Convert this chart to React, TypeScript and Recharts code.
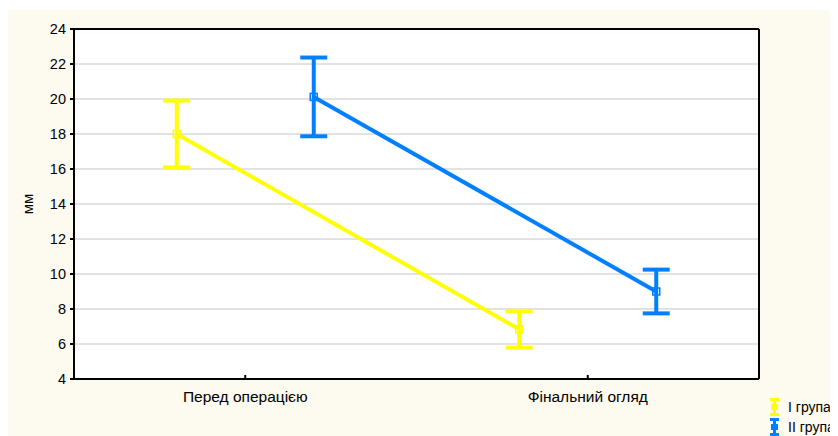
import { ScatterChart, Scatter, XAxis, YAxis, CartesianGrid, ErrorBar, ReferenceLine, Legend } from 'recharts'

// categories on the x axis
const categories = ['Перед операцією', 'Фінальний огляд']
const yTicks = [4, 6, 8, 10, 12, 14, 16, 18, 20, 22, 24]

// group means and error half-widths (мм)
const group1Name = 'I група'
const group1Means = [18.0, 6.84]
const group1Err = [1.91, 1.05]

const group2Name = 'II група'
const group2Means = [20.12, 9.0]
const group2Err = [2.25, 1.25]

const YELLOW = '#FFFF00'
const BLUE = '#0080FF'
const BG = '#FDFAF0'
const FONT = 'Arial, "Liberation Sans", sans-serif'

// each category sits at i + 0.5, groups are shifted left / right of it
const SHIFT = 0.2
const build = (means: number[], errs: number[], shift: number) =>
  means.map((m, i) => ({ x: i + 0.5 + shift, y: m, err: errs[i] }))

const data1 = build(group1Means, group1Err, -SHIFT)
const data2 = build(group2Means, group2Err, SHIFT)

const squareShape = (color: string) => (props: any) => {
  const { cx, cy } = props
  return <rect x={cx - 3.5} y={cy - 3.5} width={7} height={7} fill="none" stroke={color} strokeWidth={1.5} />
}

function LegendIcon({ color }: { color: string }) {
  return (
    <svg width={9} height={18} style={{ display: 'block', flexShrink: 0 }}>
      <rect x={0} y={0} width={9} height={3} fill={color} />
      <rect x={3} y={0} width={3} height={18} fill={color} />
      <rect x={1} y={6} width={7} height={6} fill={color} />
      <rect x={0} y={15} width={9} height={3} fill={color} />
    </svg>
  )
}

const renderLegend = (props: any) => {
  const { payload = [] } = props
  return (
    <div style={{ fontFamily: FONT, fontSize: 14, color: '#000' }}>
      {payload.map((p: any) => (
        <div key={p.value} style={{ display: 'flex', alignItems: 'center', height: 20, whiteSpace: 'nowrap' }}>
          <LegendIcon color={p.color} />
          <span style={{ marginLeft: 9 }}>{p.value}</span>
        </div>
      ))}
    </div>
  )
}

export default function App() {
  const yTickStyle = { fontSize: 14.5, fill: '#000', fontFamily: FONT }
  const xTickStyle = { fontSize: 15.5, fill: '#000', fontFamily: FONT }
  return (
    <div style={{ paddingTop: 2 }}>
      <div style={{ width: 830, height: 426, background: BG, overflow: 'hidden' }}>
        <ScatterChart width={830} height={426} margin={{ top: 19, right: 0, bottom: 27, left: 0 }}>
          <CartesianGrid vertical={false} stroke="#e2e2e2" strokeWidth={2} fill="#fff" />
          <XAxis
            type="number"
            dataKey="x"
            domain={[0, 2]}
            ticks={[0.5, 1.5]}
            tickFormatter={(v: number) => categories[Math.floor(v)]}
            height={30}
            axisLine={{ stroke: '#000', strokeWidth: 2 }}
            tickLine={{ stroke: '#000', strokeWidth: 2 }}
            tickSize={-4}
            tickMargin={16}
            tick={xTickStyle}
          />
          <YAxis
            type="number"
            dataKey="y"
            domain={[4, 24]}
            ticks={yTicks}
            interval={0}
            width={66}
            axisLine={{ stroke: '#000', strokeWidth: 2 }}
            tickLine={{ stroke: '#000', strokeWidth: 2 }}
            tickSize={4}
            tickMargin={4}
            tick={yTickStyle}
            label={{
              value: 'мм',
              angle: -90,
              position: 'insideLeft',
              offset: 20,
              style: { textAnchor: 'middle', fontSize: 15, fontFamily: FONT, fill: '#000' },
            }}
          />
          <YAxis
            yAxisId="r"
            orientation="right"
            type="number"
            domain={[4, 24]}
            ticks={yTicks}
            interval={0}
            width={79}
            axisLine={{ stroke: '#000', strokeWidth: 2 }}
            tickLine={{ stroke: '#000', strokeWidth: 2 }}
            tickSize={4}
            tickFormatter={() => ''}
          />
          <ReferenceLine y={24} stroke="#000" strokeWidth={2} />
          <Legend
            layout="vertical"
            align="center"
            verticalAlign="middle"
            content={renderLegend}
            wrapperStyle={{ left: 762, top: 387, width: 68 }}
          />
          <Scatter
            name={group1Name}
            data={data1}
            fill={YELLOW}
            line={{ stroke: YELLOW, strokeWidth: 4 }}
            shape={squareShape(YELLOW)}
            isAnimationActive={false}
          >
            <ErrorBar dataKey="err" direction="y" width={13.5} stroke={YELLOW} strokeWidth={4} />
          </Scatter>
          <Scatter
            name={group2Name}
            data={data2}
            fill={BLUE}
            line={{ stroke: BLUE, strokeWidth: 4 }}
            shape={squareShape(BLUE)}
            isAnimationActive={false}
          >
            <ErrorBar dataKey="err" direction="y" width={13.5} stroke={BLUE} strokeWidth={4} />
          </Scatter>
        </ScatterChart>
      </div>
    </div>
  )
}
